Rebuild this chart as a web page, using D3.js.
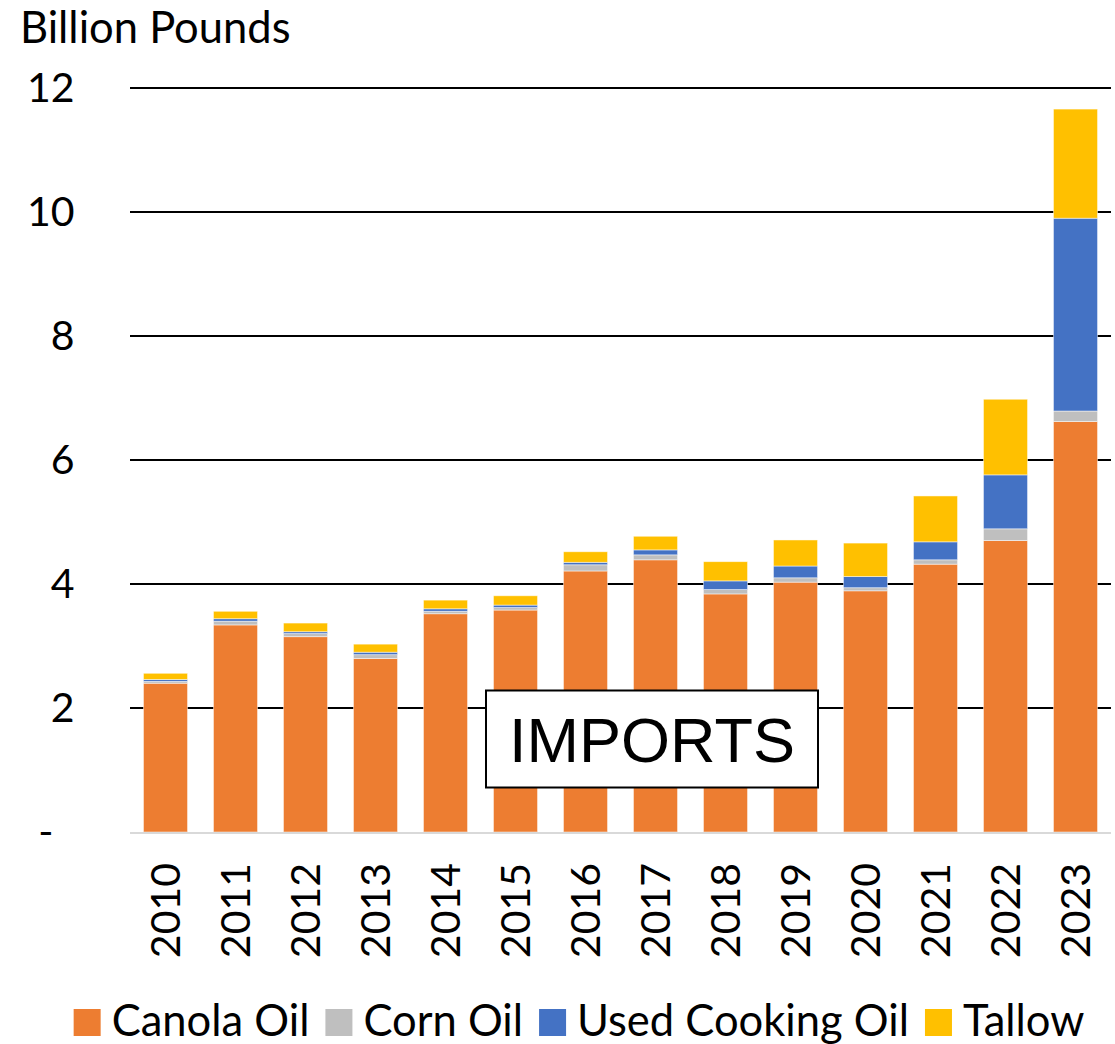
<!DOCTYPE html>
<html>
<head>
<meta charset="utf-8">
<script src="https://cdn.jsdelivr.net/npm/d3@7"></script>
<style>
  body { margin: 0; background: #fff; }
  text { font-family: Lato, "Open Sans", sans-serif; fill: #000; }
</style>
</head>
<body>
<svg id="chart"></svg>
<script>
// values in billion pounds
const years = ["2010","2011","2012","2013","2014","2015","2016","2017","2018","2019","2020","2021","2022","2023"];
const canolaOil = [2.40, 3.34, 3.15, 2.80, 3.52, 3.58, 4.21, 4.39, 3.84, 4.03, 3.89, 4.32, 4.70, 6.62];
const cornOil   = [0.03, 0.06, 0.05, 0.06, 0.04, 0.04, 0.10, 0.08, 0.07, 0.07, 0.05, 0.07, 0.19, 0.17];
const usedCookingOil = [0.03, 0.04, 0.03, 0.04, 0.04, 0.04, 0.04, 0.08, 0.14, 0.19, 0.18, 0.29, 0.87, 3.11];
const tallow    = [0.10, 0.12, 0.14, 0.13, 0.14, 0.15, 0.17, 0.22, 0.31, 0.42, 0.54, 0.74, 1.22, 1.76];
const yTicks = [0, 2, 4, 6, 8, 10, 12];

const seriesNames = ["Canola Oil", "Corn Oil", "Used Cooking Oil", "Tallow"];
const colors = ["#ED7D31", "#BFBFBF", "#4472C4", "#FFC000"];

const width = 1115, height = 1044;
const margin = {top: 88, right: 4, bottom: 212, left: 130.5};

const svg = d3.select("#chart")
    .attr("width", width)
    .attr("height", height);

const rows = years.map((y, i) => ({
    year: y,
    "Canola Oil": canolaOil[i],
    "Corn Oil": cornOil[i],
    "Used Cooking Oil": usedCookingOil[i],
    "Tallow": tallow[i]
}));
const stacked = d3.stack().keys(seriesNames)(rows);

const xscale = d3.scaleBand()
    .domain(years)
    .range([margin.left, margin.left + 980])
    .paddingInner(0.37)
    .paddingOuter(0.185);

const yscale = d3.scaleLinear()
    .domain([0, 12])
    .range([height - margin.bottom, margin.top]);

const x0 = margin.left - 0.5, x1 = 1111;

// gridlines
svg.append("g")
    .selectAll("line")
    .data(yTicks.filter(d => d > 0))
    .join("line")
    .attr("x1", x0).attr("x2", x1)
    .attr("y1", d => yscale(d)).attr("y2", d => yscale(d))
    .attr("stroke", "#000")
    .attr("stroke-width", 2);

// bars
svg.append("g")
    .selectAll("g")
    .data(stacked)
    .join("g")
    .attr("fill", (d, i) => colors[i])
    .selectAll("rect")
    .data(d => d)
    .join("rect")
    .attr("x", d => xscale(d.data.year))
    .attr("width", xscale.bandwidth())
    .attr("y", d => yscale(d[1]))
    .attr("height", d => yscale(d[0]) - yscale(d[1]))
    .attr("stroke", "#fff")
    .attr("stroke-opacity", 0.6)
    .attr("stroke-width", 0.8);

// baseline
svg.append("line")
    .attr("x1", x0).attr("x2", x1)
    .attr("y1", yscale(0) + 1).attr("y2", yscale(0) + 1)
    .attr("stroke", "#d9d9d9")
    .attr("stroke-width", 2);

// y axis
const yaxis = d3.axisLeft(yscale)
    .tickValues(yTicks)
    .tickSize(0)
    .tickPadding(56)
    .tickFormat(d => d === 0 ? "-" : d);

const yg = svg.append("g")
    .attr("transform", `translate(${margin.left}, 0)`)
    .call(yaxis);
yg.select(".domain").remove();
yg.selectAll("text")
    .attr("font-size", 41)
    .attr("font-family", "Lato, sans-serif");
yg.selectAll(".tick")
    .filter(d => d === 0)
    .select("text")
    .attr("x", -77);

// x axis
const xaxis = d3.axisBottom(xscale).tickSize(0).tickPadding(0);
const xg = svg.append("g")
    .attr("transform", `translate(0, ${yscale(0)})`)
    .call(xaxis);
xg.select(".domain").remove();
xg.selectAll("text")
    .attr("font-size", 41)
    .attr("font-family", "Lato, sans-serif")
    .attr("text-anchor", "end")
    .attr("transform", "rotate(-90)")
    .attr("x", -31)
    .attr("y", 0)
    .attr("dy", "0.36em");

// axis title
svg.append("text")
    .attr("x", 20)
    .attr("y", 43)
    .attr("font-size", 43.5)
    .text("Billion Pounds");

// IMPORTS annotation
const note = svg.append("g");
note.append("rect")
    .attr("x", 486).attr("y", 690.5)
    .attr("width", 332).attr("height", 97)
    .attr("fill", "#fff")
    .attr("stroke", "#000")
    .attr("stroke-width", 2);
note.append("text")
    .attr("x", 652).attr("y", 762)
    .attr("text-anchor", "middle")
    .attr("font-size", 63)
    .style("font-family", "'Liberation Sans', Arial, sans-serif")
    .text("IMPORTS");

// legend
const legend = svg.append("g");
const sq = 27, gapText = 11, gapItem = 16;
let lx = 0;
seriesNames.forEach((name, i) => {
    const item = legend.append("g").attr("transform", `translate(${lx}, 0)`);
    item.append("rect")
        .attr("x", 0).attr("y", 1009)
        .attr("width", sq).attr("height", sq)
        .attr("fill", colors[i]);
    const t = item.append("text")
        .attr("x", sq + gapText).attr("y", 1036)
        .attr("font-size", 43.5)
        .text(name);
    lx += sq + gapText + t.node().getComputedTextLength() + gapItem;
});
const legendWidth = lx - gapItem;
legend.attr("transform", `translate(${579 - legendWidth / 2}, 0)`);
</script>
</body>
</html>
